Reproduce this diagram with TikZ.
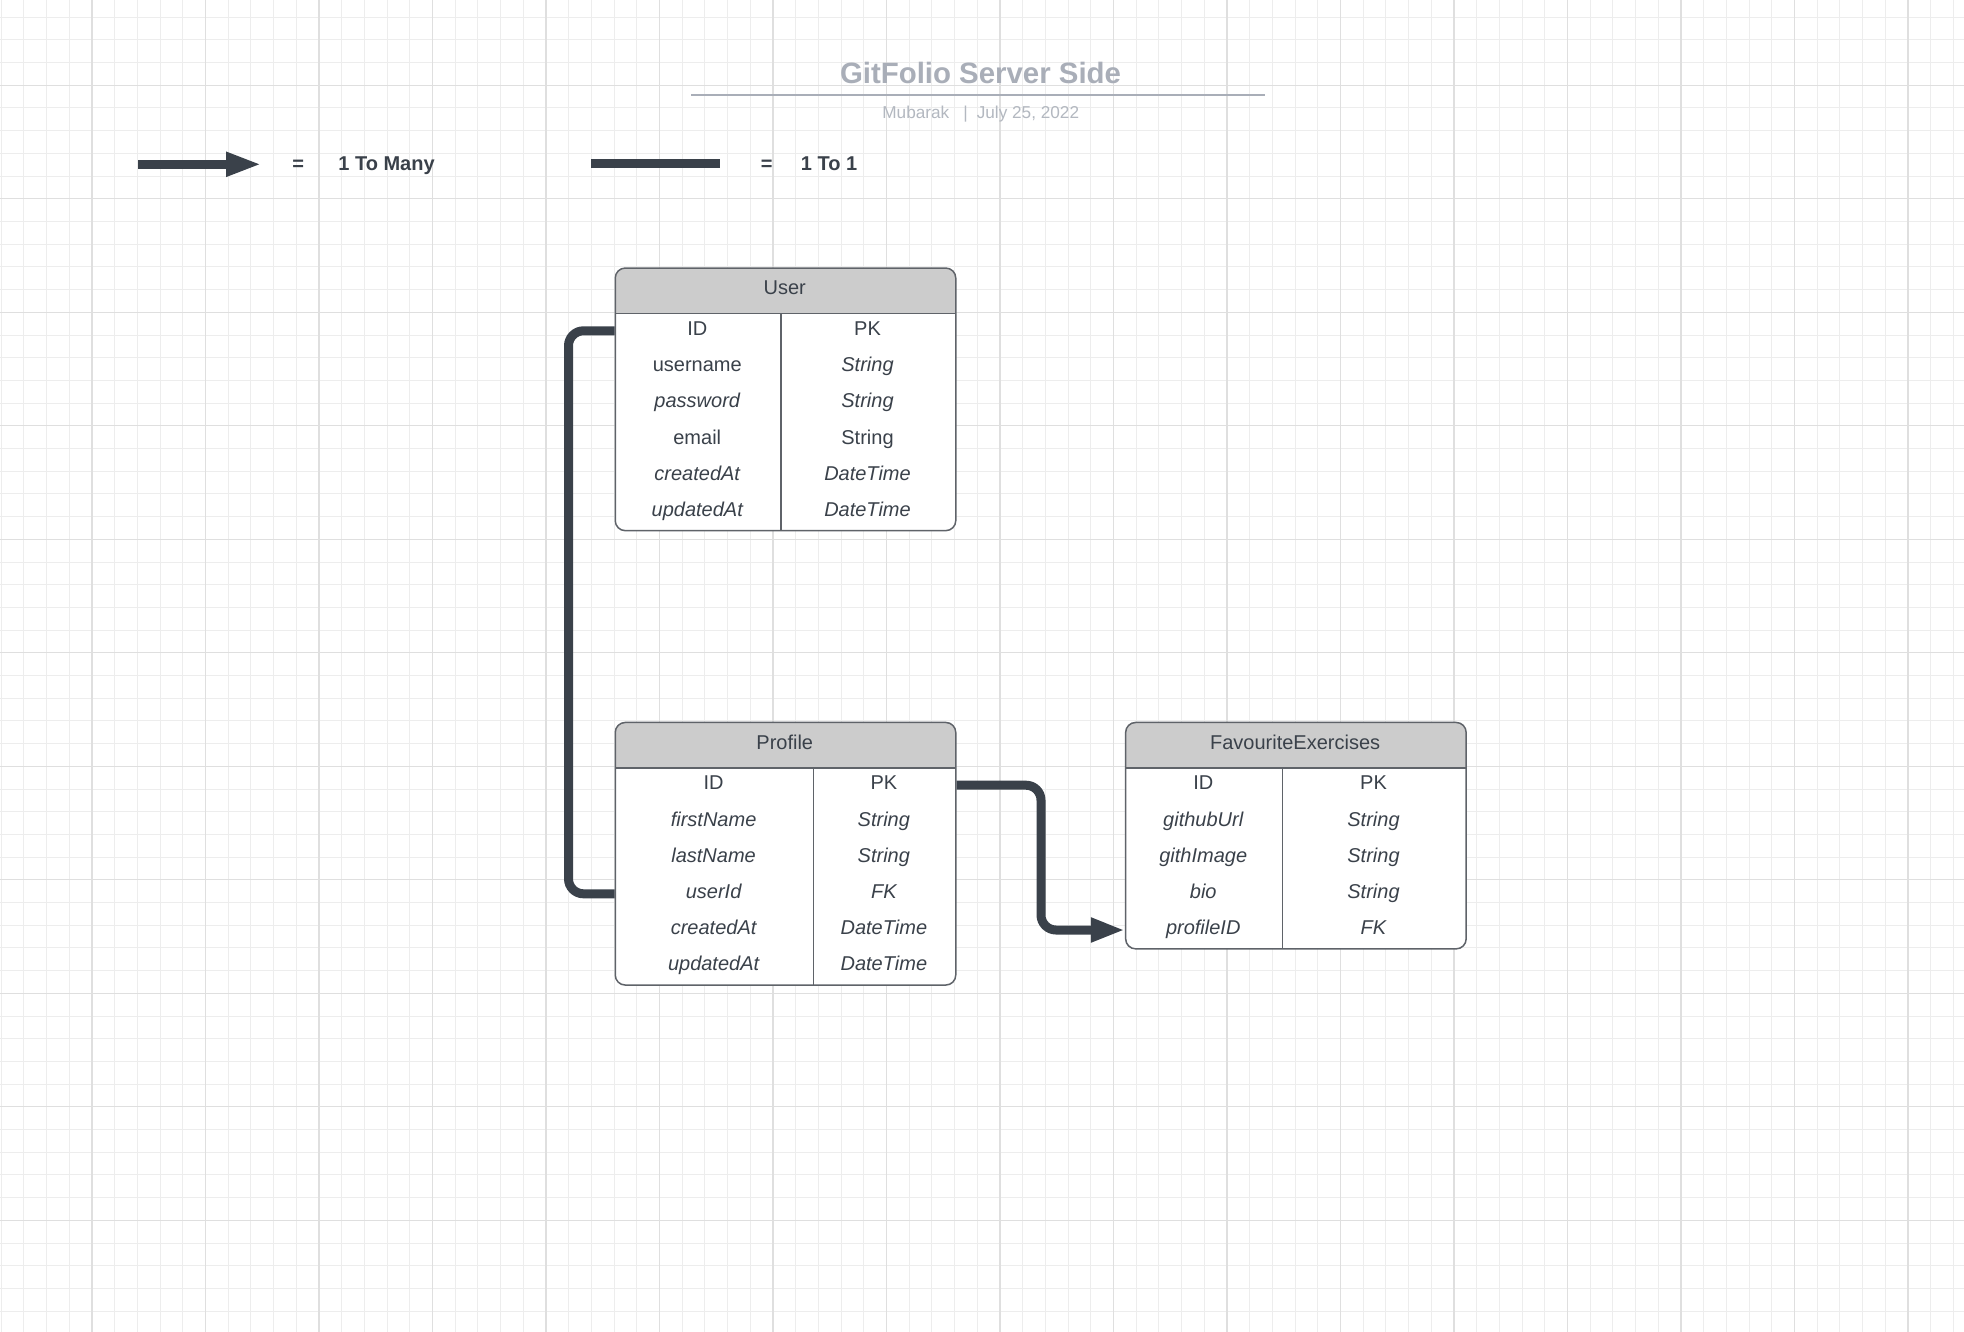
\documentclass[tikz,border=0pt]{standalone}
\usepackage{fontspec}
\setmainfont{Liberation Sans}
\usetikzlibrary{arrows.meta}
\definecolor{gridminor}{HTML}{EDEDED}
\definecolor{gridmajor}{HTML}{DFDFDF}
\definecolor{ink}{HTML}{3A414A}
\definecolor{titlegray}{HTML}{A9AEB8}
\definecolor{subgray}{HTML}{B3B8C0}
\definecolor{headfill}{HTML}{CCCCCC}
\definecolor{tableborder}{HTML}{5F6369}
\begin{document}
\begin{tikzpicture}[x=0.5pt, y=-0.5pt,
  gridminorline/.style={draw=gridminor, line width=0.5pt},
  gridmajorline/.style={draw=gridmajor, line width=0.55pt},
  cell/.style={font=\fontsize{10}{12}\selectfont, text=ink, inner sep=0pt, text height=7.2pt, text depth=2.5pt, anchor=center},
  icell/.style={cell, font=\fontsize{10}{12}\selectfont\itshape},
  legtext/.style={font=\bfseries\fontsize{10}{12}\selectfont, text=ink, inner sep=0pt, text height=7.2pt, text depth=2.5pt},
  conn/.style={draw=ink, line width=4.5pt, rounded corners=7.5pt},
  manytip/.style={-{Triangle[length=17pt, width=11.3pt]}},
  tablebox/.style={draw=tableborder, line width=0.75pt, rounded corners=5pt, fill=white, inner sep=0pt, anchor=north west,
    path picture={
      \fill[headfill, sharp corners] (path picture bounding box.north west) rectangle ([yshift=-22.7pt]path picture bounding box.north east);
      \draw[tableborder, line width=0.75pt, sharp corners] ([yshift=-22.7pt]path picture bounding box.north west) -- ([yshift=-22.7pt]path picture bounding box.north east);
      \draw[tableborder, line width=0.75pt, sharp corners] ([xshift=#1, yshift=-22.7pt]path picture bounding box.north west) -- ([xshift=#1]path picture bounding box.south west);
    }}
]
\useasboundingbox (0,0) rectangle (1964,1332);
\fill[white] (0,0) rectangle (1964,1332);
% grid
\foreach \i in {0,...,86} \draw[gridminorline] ({1.2+22.7*\i},0) -- ({1.2+22.7*\i},1332);
\foreach \i in {0,...,58} \draw[gridminorline] (0,{17.2+22.7*\i}) -- (1964,{17.2+22.7*\i});
\foreach \i in {0,...,16} \draw[gridmajorline] ({92+113.5*\i},0) -- ({92+113.5*\i},1332);
\foreach \i in {0,...,10} \draw[gridmajorline] (0,{85.3+113.5*\i}) -- (1964,{85.3+113.5*\i});

% title
\node[font=\bfseries\fontsize{14.7}{17}\selectfont, text=titlegray, anchor=base, inner sep=0pt] (title) at (980.5,83.3) {GitFolio Server Side};
\coordinate (tl1) at (691,95);
\coordinate (tl2) at (1265,95);
\draw[titlegray, line width=1pt] (tl1) -- (tl2);
\node[font=\fontsize{8.6}{10}\selectfont, text=subgray, anchor=base west, inner sep=0pt] (sub) at (882,119) {Mubarak\hspace{7pt}|\hspace{4.5pt}July 25, 2022};

% legend
\coordinate (la1) at (138,164.3);
\coordinate (la2) at (261.7,164.3);
\draw[conn, -{Triangle[length=17.8pt, width=11.2pt]}] (la1) -- (la2);
\node[legtext] (leq1) at (298.3,166) {=};
\node[legtext, anchor=west] (l1m) at (338,166) {1 To Many};
\coordinate (lb1) at (591,163.7);
\coordinate (lb2) at (720,163.7);
\draw[conn] (lb1) -- (lb2);
\node[legtext] (leq2) at (766.6,166) {=};
\node[legtext, anchor=west] (l11) at (800.5,166) {1 To 1};

% User table
\node[tablebox=82.75pt, minimum width=170.25pt, minimum height=131.3pt] (user) at (614.5,267.3) {};
\node[cell] (uh) at (784.75,290) {User};
\node[cell]  (u0l) at (697.25,330.8) {ID};        \node[cell]  (u0r) at (867.5,330.8) {PK};
\node[cell]  (u1l) at (697.25,367.0) {username};  \node[icell] (u1r) at (867.5,367.0) {String};
\node[icell] (u2l) at (697.25,403.2) {password};  \node[icell] (u2r) at (867.5,403.2) {String};
\node[cell]  (u3l) at (697.25,439.4) {email};     \node[cell]  (u3r) at (867.5,439.4) {String};
\node[icell] (u4l) at (697.25,475.6) {createdAt}; \node[icell] (u4r) at (867.5,475.6) {DateTime};
\node[icell] (u5l) at (697.25,511.8) {updatedAt}; \node[icell] (u5r) at (867.5,511.8) {DateTime};

% Profile table
\node[tablebox=99.1pt, minimum width=170.25pt, minimum height=131.3pt] (profile) at (614.5,721.7) {};
\node[cell] (ph) at (784.75,744.4) {Profile};
\node[cell]  (p0l) at (713.6,785.2) {ID};        \node[cell]  (p0r) at (883.85,785.2) {PK};
\node[icell] (p1l) at (713.6,821.4) {firstName}; \node[icell] (p1r) at (883.85,821.4) {String};
\node[icell] (p2l) at (713.6,857.6) {lastName};  \node[icell] (p2r) at (883.85,857.6) {String};
\node[icell] (p3l) at (713.6,893.8) {userId};    \node[icell] (p3r) at (883.85,893.8) {FK};
\node[icell] (p4l) at (713.6,930.0) {createdAt}; \node[icell] (p4r) at (883.85,930.0) {DateTime};
\node[icell] (p5l) at (713.6,966.2) {updatedAt}; \node[icell] (p5r) at (883.85,966.2) {DateTime};

% FavouriteExercises table
\node[tablebox=78.35pt, minimum width=170.25pt, minimum height=113.2pt] (fav) at (1124.9,721.7) {};
\node[cell] (fh) at (1295.15,744.4) {FavouriteExercises};
\node[cell]  (f0l) at (1203.25,785.2) {ID};        \node[cell]  (f0r) at (1373.5,785.2) {PK};
\node[icell] (f1l) at (1203.25,821.4) {githubUrl}; \node[icell] (f1r) at (1373.5,821.4) {String};
\node[icell] (f2l) at (1203.25,857.6) {githImage}; \node[icell] (f2r) at (1373.5,857.6) {String};
\node[icell] (f3l) at (1203.25,893.8) {bio};       \node[icell] (f3r) at (1373.5,893.8) {String};
\node[icell] (f4l) at (1203.25,930.0) {profileID}; \node[icell] (f4r) at (1373.5,930.0) {FK};

% connectors
\draw[conn] (user.west |- u0l) -- ++(-46,0) |- (profile.west |- p3l);
\draw[conn, manytip] (profile.east |- p0r) -- ++(84.5,0) |- (fav.west |- f4l);
\end{tikzpicture}
\end{document}
